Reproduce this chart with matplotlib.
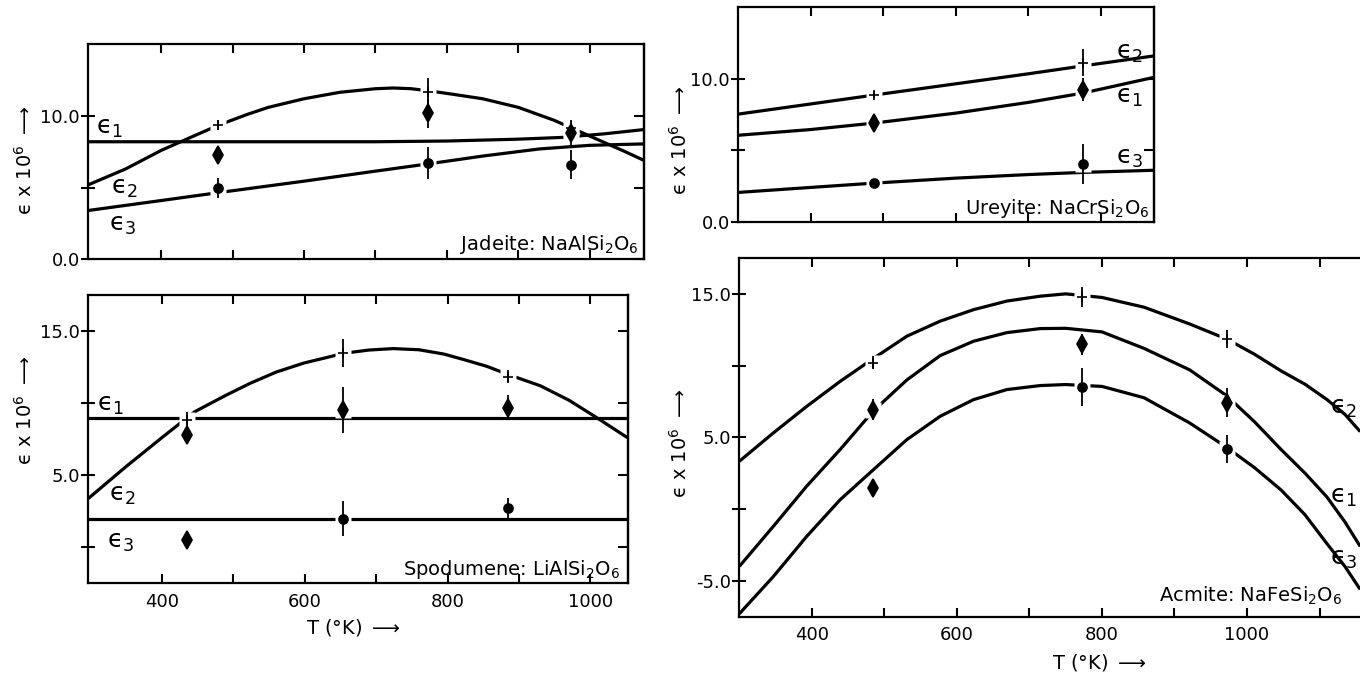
import numpy
from matplotlib import pyplot
from matplotlib.ticker import FuncFormatter

pyplot.rcParams['font.family'] = ['DejaVu Sans']
pyplot.rcParams['mathtext.fontset'] = 'dejavusans'

# ---------------- Jadeite : NaAlSi2O6 ----------------
jad_T = [480, 773, 974]
jad_e1 = [7.28, 10.19, 8.8]
jad_e1_err = [0.3, 1.0, 0.9]
jad_e2 = [9.37, 11.7, 9.14]
jad_e2_err = [0.35, 0.93, 0.2]
jad_e3 = [4.95, 6.7, 6.6]
jad_e3_err = [0.7, 1.1, 1.0]
jad_c1_T = [297, 500, 700, 800, 900, 960, 1020, 1076]
jad_c1 = [8.2, 8.2, 8.2, 8.25, 8.38, 8.5, 8.75, 9.05]
jad_c2_T = [297, 350, 400, 450, 480, 520, 550, 600, 650, 700, 725, 750, 775, 810, 850, 900, 950, 1000, 1050, 1076]
jad_c2 = [5.18, 6.3, 7.6, 8.7, 9.35, 10.1, 10.6, 11.2, 11.65, 11.9, 11.95, 11.9, 11.75, 11.5, 11.2, 10.6, 9.7, 8.6, 7.5, 6.9]
jad_c3_T = [297, 400, 480, 600, 700, 773, 850, 930, 1000, 1076]
jad_c3 = [3.4, 4.1, 4.65, 5.45, 6.15, 6.65, 7.2, 7.7, 7.95, 8.05]

# ---------------- Spodumene : LiAlSi2O6 ----------------
spo_T = [435, 654, 884]
spo_e1 = [7.76, 9.51, 9.68]
spo_e1_err = [0.6, 1.6, 0.85]
spo_e2 = [8.81, 13.47, 11.84]
spo_e2_err = [0.6, 1.0, 0.45]
spo_e3 = [0.49, 1.98, 2.7]
spo_e3_err = [0.35, 1.2, 0.7]
spo_c1_T = [297, 1052]
spo_c1 = [9.0, 9.0]
spo_c2_T = [297, 350, 400, 446, 490, 524, 560, 599, 630, 654, 690, 724, 760, 795, 824, 855, 884, 930, 970, 1007, 1052]
spo_c2 = [3.38, 5.6, 7.6, 9.4, 10.55, 11.38, 12.15, 12.78, 13.15, 13.45, 13.68, 13.78, 13.7, 13.4, 13.0, 12.55, 12.0, 11.2, 10.2, 9.05, 7.6]
spo_c3_T = [297, 1052]
spo_c3 = [1.95, 1.95]

# ---------------- Ureyite : NaCrSi2O6 ----------------
ure_T = [487, 775]
ure_e1 = [6.94, 9.25]
ure_e1_err = [0.35, 0.8]
ure_e2 = [8.9, 11.13]
ure_e2_err = [0.25, 0.94]
ure_e3 = [2.71, 4.07]
ure_e3_err = [0.3, 1.4]
ure_c_T = [300, 400, 487, 600, 700, 775, 873]
ure_c1 = [6.05, 6.45, 6.9, 7.6, 8.35, 9.0, 10.1]
ure_c2 = [7.53, 8.24, 8.86, 9.65, 10.35, 10.9, 11.6]
ure_c3 = [2.05, 2.4, 2.7, 3.05, 3.3, 3.45, 3.6]

# ---------------- Acmite : NaFeSi2O6 ----------------
acm_T = [485, 773, 972]
acm_e1 = [6.93, 11.5, 7.41]
acm_e1_err = [0.73, 0.73, 1.0]
acm_e2 = [10.2, 14.81, 11.85]
acm_e2_err = [0.45, 0.7, 0.6]
acm_e3 = [1.47, 8.5, 4.18]
acm_e3_err = [0.4, 1.35, 1.0]
acm_c_T = [300, 347, 393, 439, 485, 531, 577, 623, 669, 715, 750, 800, 858, 921, 972,
           1010, 1047, 1080, 1110, 1135, 1156]
acm_c1 = [-4.0, -1.2, 1.6, 4.15, 6.85, 9.0, 10.7, 11.7, 12.3, 12.58, 12.6, 12.35, 11.2, 9.7, 7.9,
          6.1, 4.15, 2.5, 0.85, -0.9, -2.6]
acm_c2 = [3.33, 5.31, 7.16, 8.9, 10.5, 12.05, 13.1, 13.9, 14.5, 14.84, 15.0, 14.75, 14.07, 12.9, 11.85,
          10.8, 9.63, 8.7, 7.64, 6.6, 5.4]
acm_c3 = [-7.3, -4.7, -1.9, 0.65, 2.75, 4.84, 6.47, 7.63, 8.33, 8.61, 8.68, 8.55, 7.76, 6.0, 4.3,
          2.9, 1.33, -0.4, -2.4, -4.0, -5.6]

# marker used for each measured point (e1 diamonds, e2 crosses, e3 dots)
m3 = ['d', '+', 'o']
spo_m3 = ['d', 'o', 'o']   # lowest spodumene point is drawn as a diamond
acm_m3 = ['d', 'o', 'o']

eps = '\u03f5'
ylab = eps + ' x 10$^6$ $\\longrightarrow$'
xlab = 'T ($\\degree$K) $\\longrightarrow$'
sizes = {'d': 9, '+': 7, 'o': 6.5}


def draw_panel(ax, curves, points, xlim, ylim, yticks, ylabels, labelx):
    for T, V in curves:
        ax.plot(T, V, color='black', lw=2.3, solid_capstyle='butt', zorder=2)
    for T, V, err, markers in points:
        # white patch so the fitted line is broken round each point
        ax.plot(T, V, ls='none', marker='s', ms=12, mfc='white', mec='none', zorder=3)
        for t, v, e, m in zip(T, V, err, markers):
            ax.errorbar(t, v, yerr=e, fmt=m, ms=sizes[m], color='black', mfc='black',
                        mec='black', mew=1.2, elinewidth=1.3, capsize=0, zorder=4)
    ax.set_xlim(xlim)
    ax.set_ylim(ylim)
    ax.set_xticks([t for t in range(400, 1200, 100) if t < xlim[1] - 5])
    ax.tick_params(axis='x', top=True, direction='in', length=6.5, width=1.5,
                   labelsize=13, pad=7)
    if labelx:
        ax.xaxis.set_major_formatter(FuncFormatter(lambda t, pos: '%d' % t if t % 200 == 0 else ''))
    else:
        ax.tick_params(axis='x', labelbottom=False)
    ax.set_yticks(yticks)
    ax.set_yticklabels(ylabels)
    ax.tick_params(axis='y', direction='inout', length=9.5, width=1.5, labelsize=13, pad=1)
    sec = ax.secondary_yaxis('right')
    sec.set_yticks(yticks)
    sec.set_yticklabels([])
    sec.tick_params(direction='in', length=7, width=1.5)
    sec.spines['right'].set_linewidth(1.6)
    for s in ax.spines.values():
        s.set_linewidth(1.6)


def eps_label(ax, x, y, i, ha='left'):
    ax.text(x, y, eps + '$_%d$' % i, fontsize=18, ha=ha, va='center')


fig = pyplot.figure(figsize=(13.6, 6.77), dpi=100)

# Jadeite
ax = fig.add_axes([0.0645, 0.617, 0.409, 0.3176])
draw_panel(ax,
           [(jad_c1_T, jad_c1), (jad_c2_T, jad_c2), (jad_c3_T, jad_c3)],
           [(jad_T, jad_e1, jad_e1_err, [m3[0]] * 3), (jad_T, jad_e2, jad_e2_err, [m3[1]] * 3),
            (jad_T, jad_e3, jad_e3_err, [m3[2]] * 3)],
           (297, 1076), (0, 15), [0, 5, 10], ['0.0', '', '10.0'], False)
eps_label(ax, 309, 9.14, 1)
eps_label(ax, 329, 4.95, 2)
eps_label(ax, 327, 2.39, 3)
ax.text(0.99, 0.043, 'Jadeite: NaAlSi$_2$O$_6$', fontsize=14, ha='right', va='baseline',
        transform=ax.transAxes)
ax.text(-0.113, 0.462, ylab, fontsize=14, rotation=90, ha='center', va='center',
        transform=ax.transAxes)

# Spodumene
ax = fig.add_axes([0.0649, 0.1384, 0.3965, 0.4259])
draw_panel(ax,
           [(spo_c1_T, spo_c1), (spo_c2_T, spo_c2), (spo_c3_T, spo_c3)],
           [(spo_T, spo_e1, spo_e1_err, [m3[0]] * 3), (spo_T, spo_e2, spo_e2_err, [m3[1]] * 3),
            (spo_T, spo_e3, spo_e3_err, spo_m3)],
           (297, 1052), (-2.5, 17.5), [0, 5, 10, 15], ['', '5.0', '', '15.0'], True)
eps_label(ax, 309, 9.86, 1)
eps_label(ax, 326, 3.64, 2)
eps_label(ax, 323, 0.38, 3)
ax.text(0.986, 0.029, 'Spodumene: LiAlSi$_2$O$_6$', fontsize=14, ha='right', va='baseline',
        transform=ax.transAxes)
ax.text(-0.117, 0.6, ylab, fontsize=14, rotation=90, ha='center', va='center',
        transform=ax.transAxes)
ax.text(0.491, -0.155, xlab, fontsize=14, ha='center', va='center', transform=ax.transAxes)

# Ureyite
ax = fig.add_axes([0.5424, 0.6725, 0.3061, 0.3167])
draw_panel(ax,
           [(ure_c_T, ure_c1), (ure_c_T, ure_c2), (ure_c_T, ure_c3)],
           [(ure_T, ure_e1, ure_e1_err, [m3[0]] * 2), (ure_T, ure_e2, ure_e2_err, [m3[1]] * 2),
            (ure_T, ure_e3, ure_e3_err, [m3[2]] * 2)],
           (299, 873), (0, 15), [0, 5, 10], ['0.0', '', '10.0'], False)
eps_label(ax, 821, 11.83, 2)
eps_label(ax, 821, 8.71, 1)
eps_label(ax, 821, 4.47, 3)
ax.text(0.989, 0.036, 'Ureyite: NaCrSi$_2$O$_6$', fontsize=14, ha='right', va='baseline',
        transform=ax.transAxes)
ax.text(-0.139, 0.378, ylab, fontsize=14, rotation=90, ha='center', va='center',
        transform=ax.transAxes)

# Acmite (right edge runs off the page, as in the original scan)
ax = fig.add_axes([0.5436, 0.0891, 0.48, 0.5298])
draw_panel(ax,
           [(acm_c_T, acm_c1), (acm_c_T, acm_c2), (acm_c_T, acm_c3)],
           [(acm_T, acm_e1, acm_e1_err, [m3[0]] * 3), (acm_T, acm_e2, acm_e2_err, [m3[1]] * 3),
            (acm_T, acm_e3, acm_e3_err, acm_m3)],
           (300, 1200), (-7.5, 17.5), [-5, 0, 5, 10, 15], ['-5.0', '', '5.0', '', '15.0'], True)
eps_label(ax, 1152, 7.06, 2, ha='right')
eps_label(ax, 1115, 0.86, 1)
eps_label(ax, 1152, -3.46, 3, ha='right')
ax.text(0.923, 0.041, 'Acmite: NaFeSi$_2$O$_6$', fontsize=14, ha='right', va='baseline',
        transform=ax.transAxes)
ax.text(-0.091, 0.484, ylab, fontsize=14, rotation=90, ha='center', va='center',
        transform=ax.transAxes)
ax.text(0.551, -0.129, xlab, fontsize=14, ha='center', va='center', transform=ax.transAxes)

pyplot.savefig('out.png', dpi=100)
